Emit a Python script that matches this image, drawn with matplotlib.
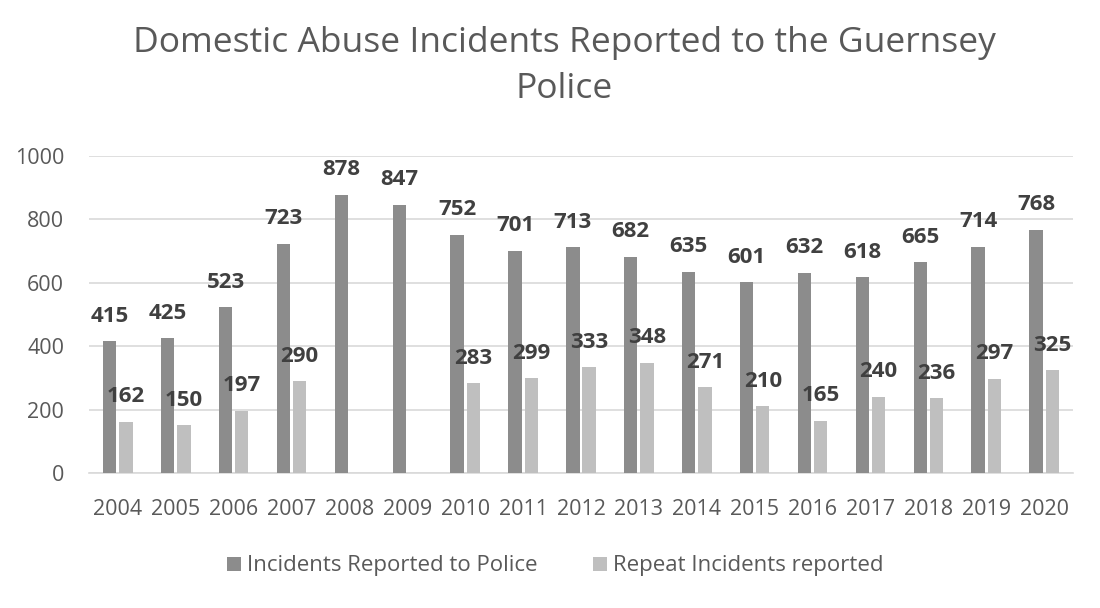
import numpy as np
import matplotlib.pyplot as plt

years = ['2004', '2005', '2006', '2007', '2008', '2009', '2010', '2011', '2012',
         '2013', '2014', '2015', '2016', '2017', '2018', '2019', '2020']
reported = [415, 425, 523, 723, 878, 847, 752, 701, 713, 682, 635, 601, 632, 618, 665, 714, 768]
repeat = [162, 150, 197, 290, None, None, 283, 299, 333, 348, 271, 210, 165, 240, 236, 297, 325]

plt.rcParams['font.family'] = ['Open Sans', 'DejaVu Sans']

fig = plt.figure(figsize=(11, 6.08), dpi=100)
ax = fig.add_axes([89 / 1100, 1 - 473 / 608, 984 / 1100, 317 / 608])

x = np.arange(len(years))
w = 0.23
rep_vals = [np.nan if v is None else v for v in repeat]
b1 = ax.bar(x - 0.14, reported, w, color='#8c8c8c', label='Incidents Reported to Police', zorder=3)
b2 = ax.bar(x + 0.14, rep_vals, w, color='#bfbfbf', label='Repeat Incidents reported', zorder=3)

for bars, vals in ((b1, reported), (b2, repeat)):
    for b, v in zip(bars, vals):
        if v is None:
            continue
        ax.annotate(str(v), (b.get_x() + b.get_width() / 2, v), xytext=(0, 14),
                    textcoords='offset points', ha='center', va='baseline',
                    fontsize=16, fontweight='bold', color='#404040')

ax.set_xlim(-0.5, len(years) - 0.5)
ax.set_ylim(0, 1000)
ax.set_yticks([0, 200, 400, 600, 800, 1000])
ax.set_xticks(x)
ax.set_xticklabels(years)
ax.tick_params(axis='both', length=0, labelsize=15.5, labelcolor='#595959')
ax.tick_params(axis='x', pad=19)
ax.tick_params(axis='y', pad=18)
ax.grid(axis='y', color='#d9d9d9', linewidth=1.2, zorder=0)
for s in ['top', 'right', 'left']:
    ax.spines[s].set_visible(False)
ax.spines['bottom'].set_color('#d9d9d9')
ax.spines['bottom'].set_linewidth(1.2)

fig.text(0.513, 1 - 66 / 608, 'Domestic Abuse Incidents Reported to the Guernsey\nPolice',
         ha='center', va='center', fontsize=25.5, color='#595959', linespacing=1.45)

fig.legend(handles=[b1, b2], loc='center', bbox_to_anchor=(0.505, 1 - 566 / 608), ncol=2,
           frameon=False, fontsize=16, labelcolor='#595959', handlelength=0.6,
           handleheight=0.6, handletextpad=0.3, columnspacing=2.5)

fig.savefig('out.png', dpi=100)
